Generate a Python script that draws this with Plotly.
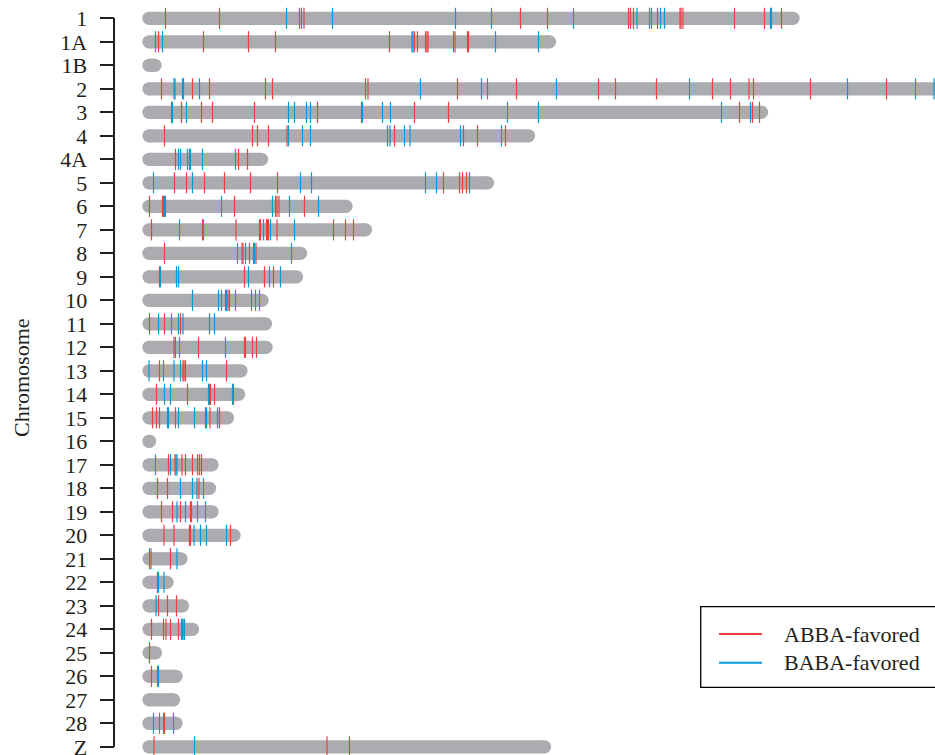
import plotly.graph_objects as go

# Chromosomes, top to bottom
CHROMOSOMES = ["1", "1A", "1B", "2", "3", "4", "4A", "5", "6", "7", "8", "9", "10",
               "11", "12", "13", "14", "15", "16", "17", "18", "19", "20", "21",
               "22", "23", "24", "25", "26", "27", "28", "Z"]

# Chromosome lengths (Mb)
LENGTH_MB = [128.8, 80.1, 1.2, 162.0, 122.5, 75.9, 22.5, 67.7, 39.4, 43.3, 30.3,
             29.5, 22.6, 23.3, 23.4, 18.4, 17.9, 15.7, 0.1, 12.6, 12.1, 12.6,
             17.0, 6.4, 3.6, 6.7, 8.7, 1.3, 5.4, 4.9, 5.4, 79.1]

# ABBA-favored windows (Mb), one list per chromosome
ABBA_MB = [
    [3.3, 14.1, 30.1, 31.0, 74.3, 79.7, 95.9, 96.3, 96.9, 101.7, 106.2, 106.4,
     106.8, 117.1, 123.1, 126.5],                                       # 1
    [1.9, 10.9, 19.9, 25.3, 48.1, 53.1, 53.7, 55.3, 55.6, 55.8, 61.2, 63.7, 63.9],  # 1A
    [],                                                                   # 1B
    [2.5, 8.7, 12.1, 23.3, 24.7, 43.3, 43.8, 61.7, 73.5, 89.9, 93.3, 101.5,
     112.7, 116.3, 120.0, 120.9, 132.3, 147.5],                          # 2
    [4.5, 6.5, 10.5, 12.7, 21.1, 33.7, 42.5, 53.1, 59.9, 118.1, 120.7, 122.1],  # 3
    [3.1, 20.7, 21.7, 23.9, 27.6, 49.1, 62.9, 65.7, 71.3],                # 4
    [5.3, 17.9, 19.7],                                                    # 4A
    [5.1, 7.5, 11.1, 15.1, 20.3, 25.7, 58.9, 62.1, 62.7, 63.5],           # 5
    [0.1, 2.7, 2.9, 17.1, 25.3, 25.6, 26.0, 31.1],                        # 6
    [0.5, 10.7, 17.4, 22.1, 22.3, 23.5, 23.7, 23.9, 25.6, 36.9, 39.3, 40.9],  # 7
    [3.1, 18.6, 18.8, 20.1, 20.9, 21.4],                                  # 8
    [2.1, 19.1, 23.1, 24.9],                                              # 9
    [15.3, 15.8, 16.1],                                                   # 10
    [0.1, 3.1, 6.3],                                                      # 11
    [5.0, 9.9, 19.1, 19.3, 20.7, 21.5],                                   # 12
    [2.1, 6.8, 7.0, 7.3, 15.5],                                           # 13
    [1.5, 7.7, 12.1, 12.3, 13.1, 16.9],                                   # 14
    [0.7, 1.5, 2.1, 5.3, 11.3, 12.2, 14.1],                               # 15
    [],                                                                   # 16
    [3.9, 5.2, 6.6, 7.3, 8.7, 9.7, 10.1, 10.5],                           # 17
    [1.7, 3.7, 10.0],                                                     # 18
    [2.5, 4.7, 6.3, 8.3, 8.5],                                            # 19
    [3.0, 5.0, 8.1, 8.3, 16.3],                                           # 20
    [0.4, 4.3],                                                           # 21
    [1.7],                                                                # 22
    [1.9, 3.7, 5.5],                                                      # 23
    [0.5, 2.9, 3.4, 4.3, 5.9, 6.8],                                       # 24
    [0.1],                                                                # 25
    [0.5, 1.7],                                                           # 26
    [],                                                                   # 27
    [3.1],                                                                # 28
    [1.0, 35.6, 40.1],                                                    # Z
]

# BABA-favored windows (Mb), one list per chromosome
BABA_MB = [
    [27.5, 30.5, 36.7, 61.3, 68.5, 84.9, 97.6, 100.1, 100.5, 102.3, 103.1,
     124.3, 124.5],                                                      # 1
    [1.3, 2.7, 52.6, 52.8, 60.9, 69.3, 77.9],                             # 1A
    [],                                                                   # 1B
    [5.0, 5.2, 6.7, 6.9, 10.1, 54.3, 66.5, 67.7, 81.5, 108.1, 139.7, 153.3,
     157.0],                                                             # 2
    [4.7, 7.5, 27.9, 29.1, 31.5, 32.3, 42.7, 46.7, 48.3, 71.7, 77.9, 114.5, 120.3],  # 3
    [27.9, 30.7, 32.3, 47.7, 48.2, 51.1, 52.2, 62.3, 70.5],               # 4
    [5.9, 6.3, 7.7, 8.1, 8.3, 10.7, 17.3],                                # 4A
    [0.9, 8.7, 30.3, 32.5, 55.3, 57.5, 64.1],                             # 5
    [3.1, 3.3, 14.5, 24.7, 28.1, 33.9],                                   # 6
    [6.1, 10.9, 22.9, 24.3, 29.1],                                        # 7
    [17.7, 19.3, 21.1, 28.5],                                             # 8
    [2.3, 5.5, 5.9, 19.9, 24.1, 26.3],                                    # 9
    [8.7, 13.9, 14.5, 15.5, 17.3, 20.5, 21.3, 22.1],                      # 10
    [1.9, 4.5, 5.9, 6.8, 12.1, 13.1],                                     # 11
    [5.3, 6.1, 15.3],                                                     # 12
    [0.0, 2.9, 5.0, 6.3, 10.7, 11.5],                                     # 13
    [3.1, 4.3, 11.9, 16.7],                                               # 14
    [3.7, 3.9, 5.9, 9.1, 11.5, 13.7],                                     # 15
    [],                                                                   # 16
    [1.3, 4.3, 5.4, 5.6],                                                 # 17
    [6.3, 8.7, 9.6, 10.9],                                                # 18
    [5.6, 7.3, 9.7, 11.3],                                                # 19
    [9.0, 10.3, 11.5, 15.5],                                              # 20
    [0.1, 5.6],                                                           # 21
    [1.9, 3.0],                                                           # 22
    [1.4],                                                                # 23
    [6.5, 6.7, 7.1],                                                      # 24
    [],                                                                   # 25
    [1.9],                                                                # 26
    [],                                                                   # 27
    [0.9, 2.1, 2.9, 4.9],                                                 # 28
    [9.1],                                                                # Z
]

# ---- styling / geometry -------------------------------------------------
W, H = 935, 755
PX_PER_MB = 5.0        # horizontal scale
X0_PX = 149.0          # where 0 Mb sits
ROW0_PX = 18.3         # centre of the first chromosome row
ROW_STEP_PX = 23.5     # spacing between rows
AXIS_X_PX = 114.3      # y-axis line position
BAR_PX = 13.3          # chromosome bar thickness
TICK_HALF = 0.45       # half height of a window mark, in rows

GRAY = "#ABACB0"
RED = "#EF3E42"
BLUE = "#0A98D6"
INK = "#231F20"
FONT = "Liberation Serif"

n = len(CHROMOSOMES)
x_range = [-X0_PX / PX_PER_MB, (W - X0_PX) / PX_PER_MB]
y_range = [(H - ROW0_PX) / ROW_STEP_PX, -ROW0_PX / ROW_STEP_PX]

fig = go.Figure()

# chromosome bars: thick line with round ends from circular markers
bx, by = [], []
for i, length in enumerate(LENGTH_MB):
    bx += [0, length, None]
    by += [i, i, None]
fig.add_trace(go.Scatter(
    x=bx, y=by, mode="lines+markers",
    line=dict(color=GRAY, width=BAR_PX),
    marker=dict(color=GRAY, size=BAR_PX, line=dict(width=0)),
    cliponaxis=False, hoverinfo="skip", showlegend=False,
))


def window_marks(sites, color):
    tx, ty = [], []
    for i, positions in enumerate(sites):
        for p in positions:
            tx += [p, p, None]
            ty += [i - TICK_HALF, i + TICK_HALF, None]
    return go.Scatter(x=tx, y=ty, mode="lines",
                      line=dict(color=color, width=1.2),
                      hoverinfo="skip", showlegend=False)


fig.add_trace(window_marks(ABBA_MB, RED))
fig.add_trace(window_marks(BABA_MB, BLUE))

# invisible trace that carries the labelled chromosome axis
fig.add_trace(go.Scatter(x=[x_range[0] - 10], y=[0], xaxis="x", yaxis="y2",
                         mode="markers", marker=dict(opacity=0),
                         hoverinfo="skip", showlegend=False))

axis_top = 1 - ROW0_PX / H
axis_bottom = 1 - (ROW0_PX + (n - 1) * ROW_STEP_PX) / H

fig.update_layout(
    width=W, height=H,
    margin=dict(l=0, r=0, t=0, b=0, pad=0, autoexpand=False),
    paper_bgcolor="white", plot_bgcolor="rgba(0,0,0,0)",
    font=dict(family=FONT, color=INK),
    xaxis=dict(range=x_range, domain=[0, 1], visible=False, fixedrange=True,
               automargin=False),
    yaxis=dict(range=y_range, domain=[0, 1], visible=False, fixedrange=True,
               automargin=False),
    yaxis2=dict(
        domain=[axis_bottom, axis_top], range=[n - 1, 0],
        anchor="free", position=AXIS_X_PX / W,
        showline=True, linecolor=INK, linewidth=1.5,
        ticks="outside", ticklen=14, tickwidth=1.5, tickcolor=INK,
        tickvals=list(range(n)), ticktext=CHROMOSOMES,
        tickfont=dict(family=FONT, size=22, color=INK),
        ticklabelstandoff=8, ticklabeloverflow="allow",
        showgrid=False, zeroline=False, fixedrange=True, automargin=False,
    ),
    showlegend=False,
)

# axis title
fig.add_annotation(text="Chromosome", x=21 / W, y=1 - 378 / H,
                   xref="paper", yref="paper", textangle=-90,
                   showarrow=False, xanchor="center", yanchor="middle",
                   font=dict(family=FONT, size=22, color=INK))

# legend box
lx0, lx1 = 700.7 / W, 1.01
ly0, ly1 = 1 - 687.3 / H, 1 - 606.7 / H
fig.add_shape(type="rect", xref="paper", yref="paper",
              x0=lx0, x1=lx1, y0=ly0, y1=ly1,
              line=dict(color="black", width=1.3), fillcolor="white")
for label, color, ypx in [("ABBA-favored", RED, 634.0), ("BABA-favored", BLUE, 662.7)]:
    yy = 1 - ypx / H
    fig.add_shape(type="line", xref="paper", yref="paper",
                  x0=719 / W, x1=762 / W, y0=yy, y1=yy,
                  line=dict(color=color, width=2))
    fig.add_annotation(text=label, x=781.5 / W, y=yy, xref="paper", yref="paper",
                       showarrow=False, xanchor="left", yanchor="middle",
                       font=dict(family=FONT, size=22, color=INK))

fig.write_html("out.html")
